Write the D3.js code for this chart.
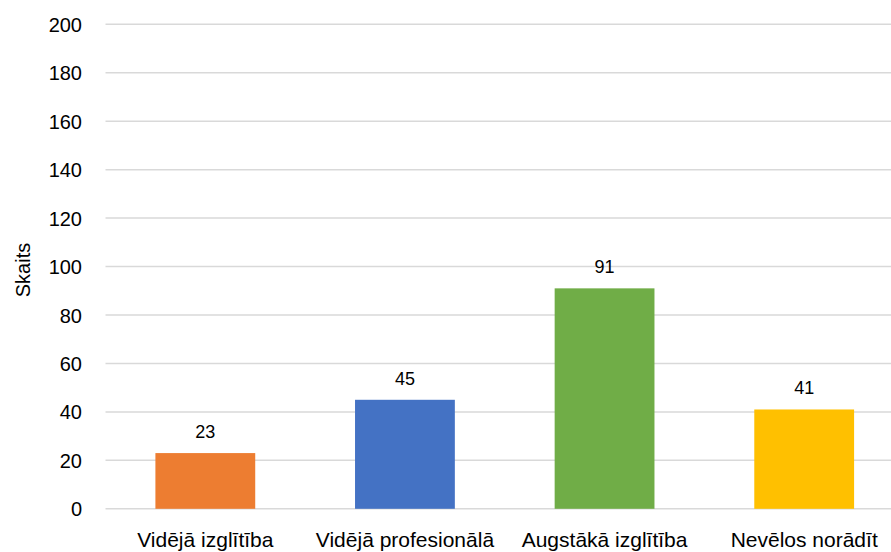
<!DOCTYPE html>
<html><head><meta charset="utf-8">
<script src="https://cdn.jsdelivr.net/npm/d3@7"></script>
<style>body{margin:0;background:#fff;}svg{display:block;font-family:"Liberation Sans",Arial,sans-serif;}</style>
</head><body>
<svg id="chart" width="891" height="552"></svg>
<script>
const categories = ["Vidējā izglītība", "Vidējā profesionālā", "Augstākā izglītība", "Nevēlos norādīt"];
const values = [23, 45, 91, 41];
const colors = ["#ED7D31", "#4472C4", "#70AD47", "#FFC000"];
const yTicks = [0, 20, 40, 60, 80, 100, 120, 140, 160, 180, 200];
const yTitle = "Skaits";

(function () {
const svg = d3.select("#chart");
const pLeft = 105.5, pRight = 904, pTop = 24.3, pBottom = 508.8;

const x = d3.scaleBand().domain(categories).range([pLeft, pRight]).paddingInner(0.5).paddingOuter(0.25);
const y = d3.scaleLinear().domain([0, 200]).range([pBottom, pTop]);

// gridlines
svg.append("g").selectAll("line").data(yTicks).join("line")
  .attr("x1", pLeft).attr("x2", pRight)
  .attr("y1", d => y(d)).attr("y2", d => y(d))
  .attr("stroke", "#d9d9d9").attr("stroke-width", 1.5);

// y axis labels
const yAxis = svg.append("g").attr("transform", `translate(${pLeft},0)`)
  .call(d3.axisLeft(y).tickValues(yTicks).tickSize(0).tickPadding(24));
yAxis.select(".domain").remove();
yAxis.selectAll("text").attr("font-size", 20).attr("fill", "#000")
  .attr("font-family", "Liberation Sans, Arial, sans-serif").attr("x", 82 - pLeft).attr("dy", "0.35em");

// bars
svg.append("g").selectAll("rect").data(values).join("rect")
  .attr("x", (d, i) => x(categories[i]))
  .attr("width", x.bandwidth())
  .attr("y", d => y(d))
  .attr("height", d => y(0) - y(d))
  .attr("fill", (d, i) => colors[i]);

// data labels
svg.append("g").selectAll("text").data(values).join("text")
  .attr("x", (d, i) => x(categories[i]) + x.bandwidth() / 2)
  .attr("y", d => y(d) - 15)
  .attr("text-anchor", "middle")
  .attr("font-size", 18).attr("fill", "#000")
  .text(d => d);

// x axis labels
const xAxis = svg.append("g").attr("transform", `translate(0,${pBottom})`)
  .call(d3.axisBottom(x).tickSize(0).tickPadding(0));
xAxis.select(".domain").remove();
xAxis.selectAll("text").attr("font-size", 21).attr("fill", "#000")
  .attr("font-family", "Liberation Sans, Arial, sans-serif")
  .attr("dy", null).attr("y", 38);

// y title
svg.append("text")
  .attr("transform", "translate(30,270) rotate(-90)")
  .attr("text-anchor", "middle")
  .attr("font-size", 20).attr("fill", "#000")
  .text(yTitle);
})();
</script>
</body></html>
